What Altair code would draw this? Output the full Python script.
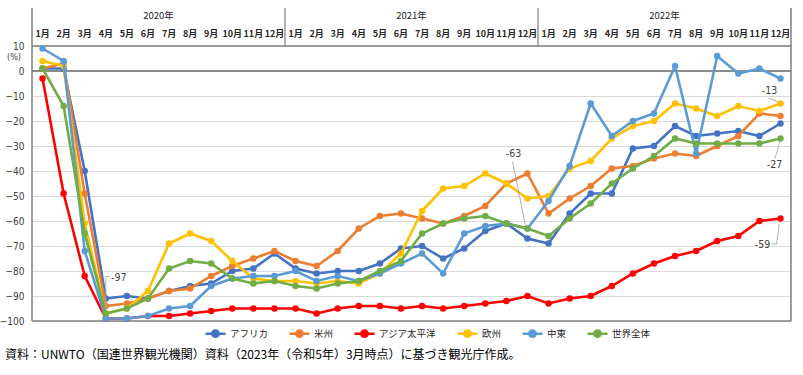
import altair as alt
import pandas as pd

# ---------------- data ----------------
series_names = ["アフリカ", "米州", "アジア太平洋", "欧州", "中東", "世界全体"]
series_colors = ["#4472C4", "#ED7D31", "#FF0000", "#FFC000", "#5B9BD5", "#70AD47"]
year_labels = ["2020年", "2021年", "2022年"]
month_labels = ["1月", "2月", "3月", "4月", "5月", "6月", "7月", "8月", "9月", "10月", "11月", "12月"]
y_ticks = [10, 0, -10, -20, -30, -40, -50, -60, -70, -80, -90, -100]

africa = [1, 1, -40, -91, -90, -91, -88, -86, -85, -80, -79, -73,
          -79, -81, -80, -80, -77, -71, -70, -75, -71, -64, -61, -67,
          -69, -57, -49, -49, -31, -30, -22, -26, -25, -24, -26, -21]
americas = [1, 3, -49, -94, -93, -91, -88, -87, -82, -78, -75, -72,
            -76, -78, -72, -63, -58, -57, -59, -61, -58, -54, -45, -41,
            -57, -51, -46, -39, -38, -35, -33, -34, -30, -26, -17, -18]
asia_pacific = [-3, -49, -82, -99, -99, -98, -98, -97, -96, -95, -95, -95,
                -95, -97, -95, -94, -94, -95, -94, -95, -94, -93, -92, -90,
                -93, -91, -90, -86, -81, -77, -74, -72, -68, -66, -60, -59]
europe = [4, 2, -61, -97, -95, -88, -69, -65, -68, -76, -83, -84,
          -84, -85, -84, -85, -81, -73, -56, -47, -46, -41, -45, -51,
          -50, -39, -36, -27, -22, -20, -13, -15, -18, -14, -16, -13]
middle_east = [9, 4, -72, -99, -99, -98, -95, -94, -86, -83, -82, -82,
               -80, -84, -82, -84, -81, -77, -73, -81, -65, -62, -61, -63,
               -52, -38, -13, -26, -20, -17, 2, -33, 6, -1, 1, -3]
world = [1, -14, -65, -97, -95, -91, -79, -76, -77, -83, -85, -84,
         -86, -87, -85, -84, -80, -76, -65, -61, -59, -58, -61, -63,
         -66, -59, -53, -45, -39, -34, -27, -29, -29, -29, -29, -27]

annot_series = ["世界全体", "世界全体", "欧州", "世界全体", "アジア太平洋"]
annot_month = [3, 23, 35, 35, 35]

footer_text = "資料：UNWTO（国連世界観光機関）資料（2023年（令和5年）3月時点）に基づき観光庁作成。"

# ---------------- tables ----------------
all_values = [africa, americas, asia_pacific, europe, middle_east, world]
n_months = len(africa)
rows = []
for name, vals in zip(series_names, all_values):
    for i, v in enumerate(vals):
        rows.append({"idx": i, "series": name, "value": v})
df = pd.DataFrame(rows)

months_df = pd.DataFrame({"idx": list(range(n_months)),
                          "label": [month_labels[i % 12] for i in range(n_months)]})
years_df = pd.DataFrame({"center": [k * 12 + 5.5 for k in range(len(year_labels))],
                         "label": year_labels})
sep_df = pd.DataFrame({"pos": [k * 12 + 11.5 for k in range(len(year_labels) - 1)]})

# layout constants (pixels)
W, H = 759, 275
PX_X = W / n_months
PX_Y = H / 110.0

# annotation styles: label offset (px) and leader segments (px offsets from the point)
annot_label_off = [(13, -36), (-14, -75), (-11, -13), (-6, 26), (-18, 26.5)]
annot_leaders = [
    [(0, -5), (0, -37), (0, -37), (4, -37)],
    [(-2, -3), (-15, -67)],
    [(-2, -1.5), (-12, -5.5)],
    [(-0.5, 3), (-5.5, 20)],
    [(-1.2, 5.5), (-3.8, 25.5), (-3.8, 25.5), (-9, 25.5)],
]

vals_by_series = dict(zip(series_names, all_values))
lab_rows, lead_rows = [], []
for s, m, (dx, dy), segs in zip(annot_series, annot_month, annot_label_off, annot_leaders):
    v = vals_by_series[s][m]
    lab_rows.append({"x": m + dx / PX_X, "y": v - dy / PX_Y, "text": str(v)})
    for k in range(0, len(segs), 2):
        (x1, y1), (x2, y2) = segs[k], segs[k + 1]
        lead_rows.append({"x": m + x1 / PX_X, "y": v - y1 / PX_Y,
                          "x2": m + x2 / PX_X, "y2": v - y2 / PX_Y})
lab_df = pd.DataFrame(lab_rows)
lead_df = pd.DataFrame(lead_rows)

# ---------------- scales / axes ----------------
JP = "Noto Sans CJK JP"
NARROW = "Liberation Sans Narrow, Arial Narrow, DejaVu Sans Condensed, Liberation Sans, sans-serif"
xscale = alt.Scale(domain=[-0.5, n_months - 0.5], nice=False, zero=False)
yscale = alt.Scale(domain=[-100, 10], nice=False, zero=False)
yaxis = alt.Axis(values=y_ticks, title=None, grid=True, gridColor="#d9d9d9", gridWidth=1,
                 domain=False, ticks=False, labelPadding=8, labelFontSize=10,
                 labelFont=NARROW, labelColor="#404040")
color_scale = alt.Scale(domain=series_names, range=series_colors)

legend = alt.Legend(
    title=None, orient="none", legendX=172, legendY=276, direction="horizontal",
    columns=6, columnPadding=15, labelOffset=3, labelFont=JP, labelFontSize=9.5,
    labelColor="#262626",
    symbolType="M-1,0L1,0M0.32,0A0.32,0.32,0,1,1,-0.32,0A0.32,0.32,0,1,1,0.32,0",
    symbolSize=400, symbolStrokeWidth=2.5, symbolOpacity=1,
)

base = alt.Chart(df)
layers = []

# reference lines
layers.append(alt.Chart(pd.DataFrame({"v": [0]})).mark_rule(color="#8c8c8c", strokeWidth=2.2)
              .encode(y=alt.Y("v:Q", scale=yscale, axis=yaxis)))
layers.append(alt.Chart(pd.DataFrame({"v": [10, -100]})).mark_rule(color="#7f7f7f", strokeWidth=1.5)
              .encode(y=alt.Y("v:Q", scale=yscale, axis=yaxis)))
# frame lines (left, right) extending into header
layers.append(alt.Chart(pd.DataFrame({"pos": [-0.5, n_months - 0.5]})).mark_rule(color="#7f7f7f", strokeWidth=1.5)
              .encode(x=alt.X("pos:Q", scale=xscale, axis=None), y=alt.value(-38), y2=alt.value(H)))
# year separators in header
layers.append(alt.Chart(sep_df).mark_rule(color="#7f7f7f", strokeWidth=1.2)
              .encode(x=alt.X("pos:Q", scale=xscale, axis=None), y=alt.value(-38), y2=alt.value(0)))

# series
for name in series_names:
    sub = base.transform_filter(alt.datum.series == name)
    enc = dict(
        x=alt.X("idx:Q", scale=xscale, axis=None),
        y=alt.Y("value:Q", scale=yscale, axis=yaxis),
        color=alt.Color("series:N", scale=color_scale, legend=legend),
    )
    layers.append(sub.mark_line(strokeWidth=2.6).encode(**enc))
    layers.append(sub.mark_point(filled=True, size=42, opacity=1).encode(**enc))

# annotations
layers.append(alt.Chart(lead_df).mark_rule(color="#a6a6a6", strokeWidth=0.9).encode(
    x=alt.X("x:Q", scale=xscale, axis=None), x2="x2:Q",
    y=alt.Y("y:Q", scale=yscale, axis=yaxis), y2="y2:Q"))
layers.append(alt.Chart(lab_df).mark_text(font=NARROW, fontSize=10.5, color="#404040").encode(
    x=alt.X("x:Q", scale=xscale, axis=None),
    y=alt.Y("y:Q", scale=yscale, axis=yaxis), text="text:N"))

# header labels
layers.append(alt.Chart(months_df).mark_text(font=JP, fontSize=9, color="#262626", fontWeight="bold").encode(
    x=alt.X("idx:Q", scale=xscale, axis=None), y=alt.value(-12), text="label:N"))
layers.append(alt.Chart(years_df).mark_text(font=JP, fontSize=9.5, color="#262626").encode(
    x=alt.X("center:Q", scale=xscale, axis=None), y=alt.value(-30), text="label:N"))

# unit label and footer
layers.append(alt.Chart(pd.DataFrame({"t": ["(%)"]})).mark_text(font=NARROW, fontSize=9, color="#404040")
              .encode(x=alt.value(-18), y=alt.value(11), text="t:N"))
layers.append(alt.Chart(pd.DataFrame({"t": [footer_text]})).mark_text(font=JP, fontSize=12, color="#000000", align="left")
              .encode(x=alt.value(-27), y=alt.value(309), text="t:N"))

chart = alt.layer(*layers).properties(
    width=W, height=H,
    autosize=alt.AutoSizeParams(type="none"),
    padding={"left": 32, "top": 46, "right": 12, "bottom": 54},
    background="white",
).configure_view(stroke=None)

chart.save("out.html", embed_options={"renderer": "svg", "actions": False})
